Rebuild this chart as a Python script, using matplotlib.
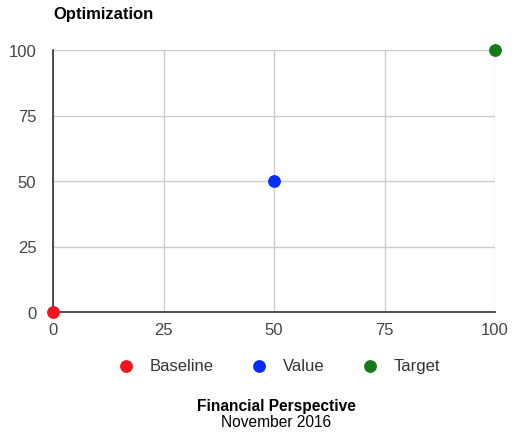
import matplotlib
matplotlib.use("Agg")
import matplotlib.pyplot as plt

series_names = ["Baseline", "Value", "Target"]
x_values = [0, 50, 100]
y_values = [0, 50, 100]
colors = ["#f5141e", "#0a2cff", "#147a1a"]
ticks = [0, 25, 50, 75, 100]

plt.rcParams['font.family'] = ['Liberation Sans', 'DejaVu Sans']

fig = plt.figure(figsize=(5.12, 4.35), dpi=100)
ax = fig.add_axes([53/512, 1-313/435, (495-53)/512, (313-51)/435])

handles = []
for name, x, y, c in zip(series_names, x_values, y_values, colors):
    h = ax.scatter([x], [y], s=85, color=c, zorder=5, clip_on=False, label=name, linewidths=0)
    handles.append(h)

ax.set_xlim(0, 100)
ax.set_ylim(0, 100)
ax.set_xticks(ticks)
ax.set_yticks(ticks)
ax.grid(True, color="#cccccc", linewidth=1)
ax.set_axisbelow(True)
for s in ["top", "right"]:
    ax.spines[s].set_visible(False)
for s in ["left", "bottom"]:
    ax.spines[s].set_color("#333333")
    ax.spines[s].set_linewidth(1.2)
    ax.spines[s].set_zorder(3)
ax.tick_params(axis="both", length=0, labelsize=12, labelcolor="#444444")
ax.tick_params(axis="x", pad=7)
ax.tick_params(axis="y", pad=12)

fig.text(53/512, 1-15/435, "Optimization", fontsize=12, fontweight="bold", va="center", ha="left")

fig.legend(handles=handles, loc="center", bbox_to_anchor=(279/512, 1-367/435), ncol=3,
           frameon=False, fontsize=12, columnspacing=2.2, handletextpad=0.94, handlelength=1.0,
           scatterpoints=1, labelcolor="#333333")

fig.text(276/512, 1-407/435, "Financial Perspective", fontsize=11.2, fontweight="bold", ha="center", va="center")
fig.text(276/512, 1-423/435, "November 2016", fontsize=11.2, ha="center", va="center")

fig.savefig("out.png", dpi=100)
